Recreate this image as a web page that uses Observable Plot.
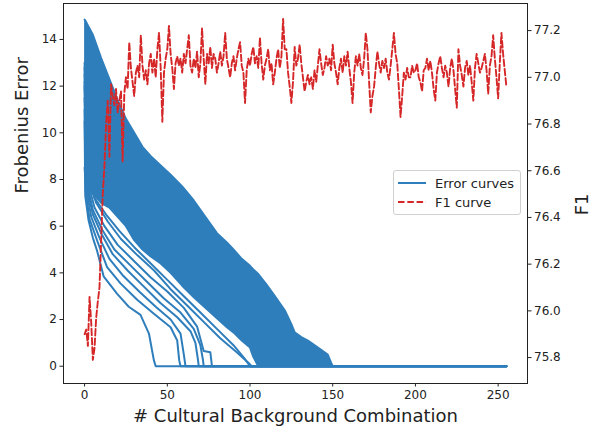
<!DOCTYPE html>
<html><head><meta charset="utf-8">
<script src="https://cdn.jsdelivr.net/npm/d3@7"></script>
<script src="https://cdn.jsdelivr.net/npm/@observablehq/plot@0.6"></script>
<style>
body{margin:0;background:#fff;}
#wrap{position:relative;width:600px;height:432px;font-family:"DejaVu Sans",sans-serif;color:#222;}
.legend{position:absolute;left:393px;top:170px;width:126px;height:43px;border:1px solid #d0d0d0;border-radius:3px;background:rgba(255,255,255,0.85);font-size:13px;}
.legend .row{position:absolute;left:4px;height:16px;display:flex;align-items:center;}
.legend svg{margin-right:9px;}
</style></head><body><div id="wrap"></div>
<script>
// ---- tick labels ----
const xTicks = [0, 50, 100, 150, 200, 250];
const yTicks = [0, 2, 4, 6, 8, 10, 12, 14];
const f1Ticks = [75.8, 76.0, 76.2, 76.4, 76.6, 76.8, 77.0, 77.2];
const lastX = 255;

// ---- dense mass of error curves: upper / lower envelope ----
const bandX      = [0, 0.5, 2, 5, 10, 15, 20, 25, 30, 35, 40, 46, 52, 59, 66, 73, 80, 86, 90, 95, 100, 102, 105, 110, 115, 121, 125, 127, 131, 135, 140, 147, 149, 150];
const bandTop    = [14.85, 14.8, 14.6, 14.2, 13.2, 12.3, 11.4, 10.6, 10.0, 9.4, 9.0, 8.6, 8.2, 7.7, 7.1, 6.4, 5.7, 5.3, 5.0, 4.6, 4.3, 4.15, 3.95, 3.5, 3.0, 2.4, 1.8, 1.45, 1.25, 1.1, 0.85, 0.5, 0.15, 0];
const bandBottom = [8.5, 8.0, 7.7, 7.4, 7.0, 6.8, 6.4, 6.0, 5.4, 5.0, 4.7, 4.4, 4.0, 3.45, 2.95, 2.5, 2.05, 1.67, 1.45, 1.1, 0.8, 0.4, 0, 0, 0, 0, 0, 0, 0, 0, 0, 0, 0, 0];

// ---- individual error curves below the dense mass (x, error) ----
const curve1 = [[0,10.5],[0.4,7.3],[2.4,6.25],[5,5.5],[7.5,4.96],[11.5,3.85],[19.7,3.1],[26.7,2.55],[33.8,2.2],[38.9,1.4],[41.9,0.25],[43,0]];
const curve2 = [[0,11],[0.6,7.5],[3,6.3],[8,5.3],[13.6,4.25],[21.7,3.55],[31.8,2.85],[41.9,2.25],[52,1.67],[56,1.1],[57.2,0.25],[58,0]];
const curve3 = [[0,11.5],[0.8,7.7],[4,6.4],[9,5.5],[15,4.6],[23,3.9],[33,3.2],[43,2.55],[52,2.0],[58,1.4],[60,0.5],[61,0]];
const curve4 = [[0,12],[1,7.8],[5,6.5],[10,5.7],[17,4.8],[26,4.1],[36,3.4],[46,2.7],[56,2.1],[64,1.5],[67,1.0],[68.5,0.3],[69,0]];
const curve5 = [[0,12.2],[1,8.0],[5,6.7],[11,5.8],[18,5.0],[28,4.3],[38,3.6],[48,2.9],[58,2.3],[66,1.6],[70,0.9],[71.5,0.3],[72,0]];
const curve6 = [[0,12.5],[1.2,8.1],[6,6.8],[12,6.0],[20,5.2],[30,4.5],[40,3.8],[50,3.2],[60,2.5],[68,1.7],[72,0.65],[76,0.6],[77,0]];
const curve7 = [[0,12.8],[1.5,8.2],[7,7.0],[14,6.2],[22,5.45],[32,4.75],[42,4.1],[52,3.3],[62,2.6],[72,1.9],[82,1.2],[92,0.6],[99,0.15],[101,0]];
const curve8 = [[0,13],[1.5,8.3],[6,7.2],[13,6.5],[21,5.8],[30,5.1],[40,4.4],[50,3.7],[60,3.0],[70,2.3],[80,1.6],[90,0.9],[97,0.3],[100,0]];
const outlierCurves = [curve1, curve2, curve3, curve4, curve5, curve6, curve7, curve8];

// ---- F1 curve, one value per combination count 0..255 ----
const f1Values = [
75.90,75.92,75.85,76.06,75.95,75.79,75.84,75.97,76.04,76.10,
76.30,76.50,76.62,76.80,76.90,76.66,76.97,76.92,76.88,76.95,
76.85,76.90,76.94,76.64,76.93,77.00,76.95,77.15,77.04,76.98,
76.92,77.02,77.05,77.00,77.18,77.05,76.99,77.03,76.97,77.06,
77.10,77.02,77.08,77.00,77.12,77.19,77.04,76.81,77.02,77.08,
77.12,77.22,77.10,77.04,76.95,77.06,77.09,77.05,77.08,77.02,
77.10,77.06,77.12,77.18,77.05,77.02,77.08,77.04,77.11,77.00,
77.06,77.21,77.08,76.97,77.10,77.06,77.13,77.04,77.10,77.08,
77.02,77.06,77.11,77.05,77.09,77.19,77.08,77.04,77.00,77.06,
77.09,77.03,77.08,77.12,77.15,77.05,77.02,76.89,77.03,77.08,
77.05,77.10,77.13,77.06,77.09,77.04,77.17,77.06,76.99,77.05,
77.08,77.12,77.03,77.06,76.97,77.02,77.08,77.12,77.04,77.09,
77.25,77.12,77.12,77.02,76.96,76.89,76.98,77.13,77.05,77.08,
77.14,77.06,77.00,76.94,76.98,77.01,76.97,77.00,76.95,77.03,
76.98,77.05,77.12,77.06,77.01,77.04,77.09,77.05,77.08,77.03,
77.14,77.06,77.02,76.97,77.04,77.08,77.02,77.09,77.05,77.11,
77.04,76.98,76.89,77.02,77.09,77.05,77.10,77.04,77.01,77.08,
77.19,77.12,76.98,76.85,76.92,76.96,77.04,77.11,77.06,77.02,
77.07,77.04,77.08,77.02,76.99,77.05,77.12,77.19,77.10,77.06,
76.95,76.83,76.92,77.02,76.99,77.04,77.00,77.00,77.05,77.02,
77.03,77.06,77.00,76.98,76.94,77.03,77.04,77.08,77.03,77.07,
77.02,76.95,76.90,77.02,77.06,77.09,77.04,77.00,77.05,77.02,
76.96,77.04,77.08,77.03,76.95,76.87,77.12,77.05,77.01,76.96,
77.04,77.07,77.01,77.05,76.98,76.90,77.04,77.10,77.06,77.02,
77.04,77.07,77.10,77.03,76.93,77.05,77.09,77.18,77.08,77.00,
76.91,77.06,77.19,77.10,77.03,76.96
];

// ---- build tables ----
const BLUE = "#2f7ebc", RED = "#d62728", INK = "#222";
const xDomain = [-12.75, 267.75];
const yDomain = [-0.74, 15.54];
const f1Domain = [75.689, 77.316];
const toLeft = d3.scaleLinear().domain(f1Domain).range(yDomain);

const band = bandX.map((x, i) => ({x, hi: bandTop[i], lo: bandBottom[i]}));
const curveRows = outlierCurves.flatMap((c, id) =>
  [...c, [lastX, 0]].map(([x, y]) => ({id, x, y})));
const f1Rows = f1Values.map((f, x) => ({x, f}));

const chart = Plot.plot({
  width: 600, height: 432,
  marginTop: 3, marginBottom: 49, marginLeft: 63, marginRight: 73,
  style: {fontFamily: '"DejaVu Sans", sans-serif', color: INK, background: "#fff"},
  x: {domain: xDomain, label: null},
  y: {domain: yDomain, label: null},
  marks: [
    Plot.areaY(band, {x: "x", y1: "lo", y2: "hi", fill: BLUE, curve: "linear"}),
    Plot.line(band, {x: "x", y: "hi", stroke: BLUE, strokeWidth: 2}),
    Plot.line(band, {x: "x", y: "lo", stroke: BLUE, strokeWidth: 2}),
    Plot.line(curveRows, {x: "x", y: "y", z: "id", stroke: BLUE, strokeWidth: 2}),
    Plot.line(f1Rows, {x: "x", y: d => toLeft(d.f), stroke: RED, strokeWidth: 1.9, strokeDasharray: "6.5,2.8"}),
    Plot.frame({stroke: INK, strokeWidth: 1}),
    Plot.axisX(xTicks, {tickSize: 3.5, tickPadding: 3, fontSize: 12, label: null}),
    Plot.axisY(yTicks, {anchor: "left", tickSize: 3.5, tickPadding: 3, fontSize: 12, label: null}),
    Plot.axisY(f1Ticks.map(toLeft), {anchor: "right", tickSize: 3.5, tickPadding: 3, fontSize: 12, label: null,
      tickFormat: d => toLeft.invert(d).toFixed(1)}),
    Plot.text(["# Cultural Background Combination"], {frameAnchor: "bottom", dy: 38, fontSize: 18, fill: INK}),
    Plot.text(["Frobenius Error"], {frameAnchor: "left", dx: -41, rotate: -90, fontSize: 18, fill: INK}),
    Plot.text(["F1"], {frameAnchor: "right", dx: 55, rotate: -90, fontSize: 18, fill: INK})
  ]
});
const wrap = document.getElementById("wrap");
wrap.appendChild(chart);

// legend (inside the plot area)
const legend = document.createElement("div");
legend.className = "legend";
legend.innerHTML =
  `<div class="row" style="top:4px"><svg width="28" height="4"><line x1="0" y1="2" x2="28" y2="2" stroke="${BLUE}" stroke-width="2"/></svg>Error curves</div>` +
  `<div class="row" style="top:23px"><svg width="28" height="4"><line x1="0" y1="2" x2="28" y2="2" stroke="${RED}" stroke-width="1.8" stroke-dasharray="6.5,2.8"/></svg>F1 curve</div>`;
wrap.appendChild(legend);
</script></body></html>
